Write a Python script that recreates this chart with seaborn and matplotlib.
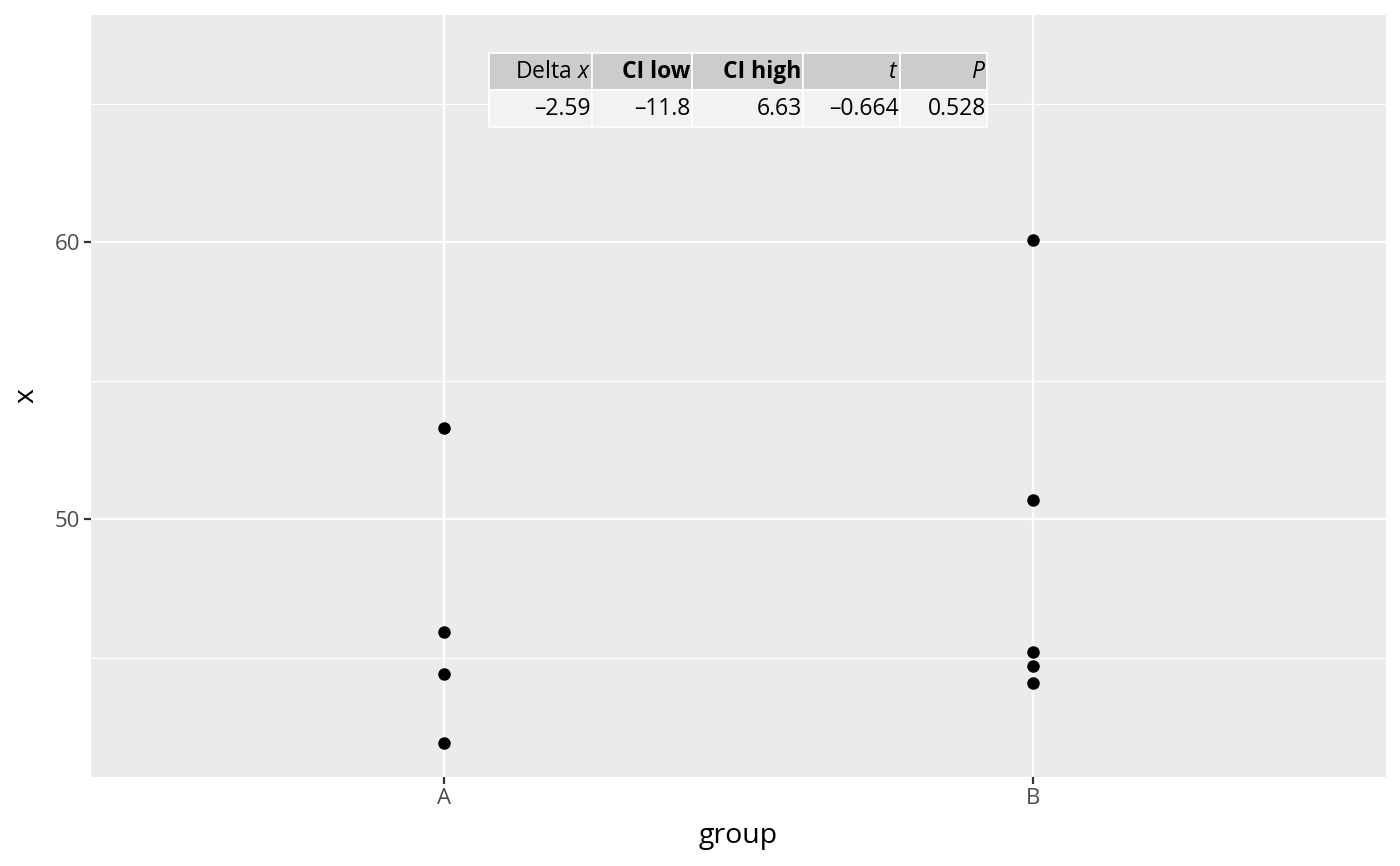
import numpy as np
import pandas as pd
import matplotlib
matplotlib.use("Agg")
import matplotlib.pyplot as plt
from matplotlib.patches import Rectangle
import seaborn as sns

# values
group_a = [53.29, 45.92, 44.40, 41.91]
group_b = [60.07, 50.69, 45.20, 44.69, 44.08]
groups = ["A", "B"]

table_header = ["Delta $x$", "CI low", "CI high", "$t$", "$P$"]
header_bold = [False, True, True, False, False]
table_values = ["\u20132.59", "\u201311.8", "6.63", "\u20130.664", "0.528"]

df = pd.DataFrame({
    "group": ["A"] * len(group_a) + ["B"] * len(group_b),
    "x": group_a + group_b,
})

sns.set_theme(style="darkgrid", rc={
    "axes.facecolor": "#EBEBEB",
    "grid.color": "white",
    "axes.edgecolor": "white",
    "text.color": "black",
})
plt.rcParams["font.family"] = ["Open Sans", "Noto Sans", "DejaVu Sans"]
plt.rcParams["mathtext.fontset"] = "custom"
plt.rcParams["mathtext.rm"] = "Open Sans"
plt.rcParams["mathtext.it"] = "Open Sans:italic"

fig = plt.figure(figsize=(14, 8.66), dpi=100)
ax = fig.add_axes([0.065, 0.1028, 0.925, 0.8799])

sns.stripplot(data=df, x="group", y="x", order=groups, jitter=False,
              color="black", size=9, ax=ax)

ax.set_xlim(-0.6, 1.6)
ax.set_ylim(40.69, 68.2)
ax.set_yticks([50, 60])
ax.set_yticks([45, 55, 65], minor=True)
ax.grid(True, which="major", color="white", linewidth=1.6)
ax.grid(True, which="minor", color="white", linewidth=0.8)
ax.set_axisbelow(True)
for s in ax.spines.values():
    s.set_visible(False)

ax.tick_params(axis="both", which="major", length=5, width=1.6, color="#333333",
               labelsize=16, labelcolor="#4D4D4D", pad=3, left=True, bottom=True)
ax.tick_params(axis="y", which="minor", length=0)
ax.set_xlabel("group", fontsize=20.5, color="black", labelpad=9)
ax.set_ylabel("x", fontsize=20.5, color="black", labelpad=10)

# table annotation in axes fraction
col_edges = [0.3073, 0.3869, 0.4641, 0.5498, 0.6247, 0.6919]
row_edges = [0.950, 0.901, 0.853]
for i in range(len(table_header)):
    x0, x1 = col_edges[i], col_edges[i + 1]
    ax.add_patch(Rectangle((x0, row_edges[1]), x1 - x0, row_edges[0] - row_edges[1],
                           transform=ax.transAxes, facecolor="#CCCCCC",
                           edgecolor="white", linewidth=1.2, zorder=5))
    ax.add_patch(Rectangle((x0, row_edges[2]), x1 - x0, row_edges[1] - row_edges[2],
                           transform=ax.transAxes, facecolor="#F2F2F2",
                           edgecolor="white", linewidth=1.2, zorder=5))
    ax.text(x1 - 0.001, (row_edges[0] + row_edges[1]) / 2, table_header[i],
            transform=ax.transAxes, ha="right", va="center", fontsize=16.5,
            color="black", fontweight="bold" if header_bold[i] else "normal", zorder=6)
    ax.text(x1 - 0.001, (row_edges[1] + row_edges[2]) / 2, table_values[i],
            transform=ax.transAxes, ha="right", va="center", fontsize=16.5,
            color="black", zorder=6)

fig.savefig("out.png", dpi=100)
